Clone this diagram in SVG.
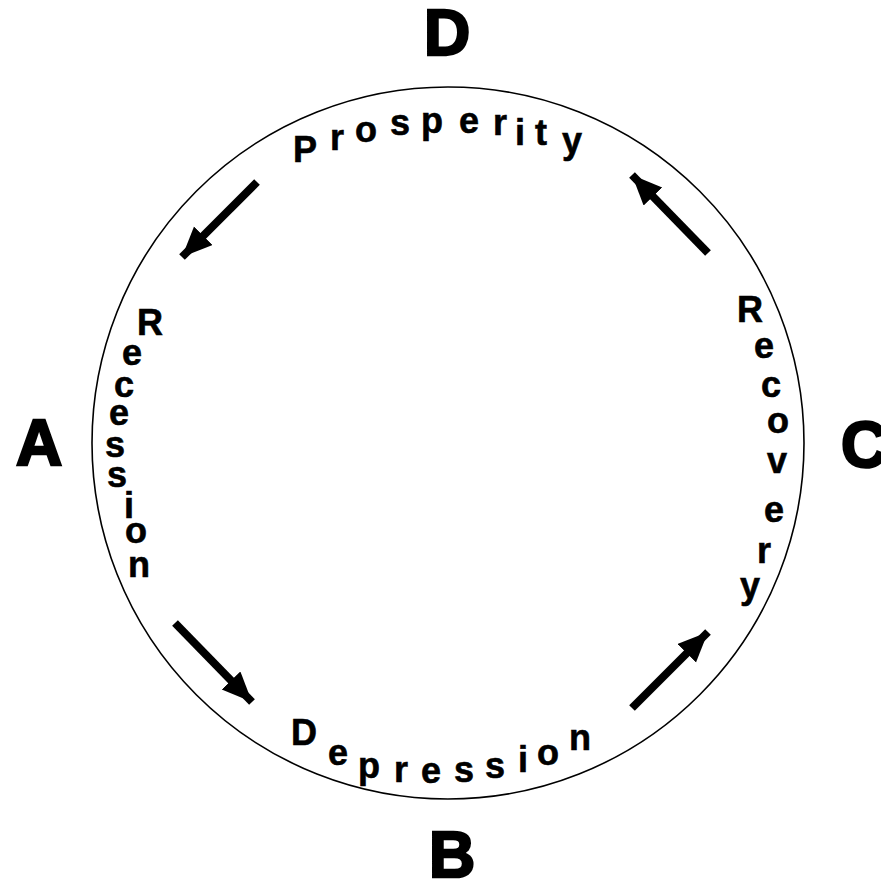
<svg xmlns="http://www.w3.org/2000/svg" width="881" height="881" viewBox="0 0 881 881">
<style>
.big{font-family:"Liberation Sans",Arial,sans-serif;font-weight:bold;font-size:64px;fill:#000;stroke:#000;stroke-width:2.5;text-anchor:middle}
.ph{font-family:"Liberation Sans",Arial,sans-serif;font-weight:bold;font-size:36px;fill:#000;stroke:#000;stroke-width:0.6;text-anchor:middle}
.arr{stroke:#000;stroke-width:8;fill:none;marker-end:url(#head)}
</style>
<defs>
<marker id="head" markerUnits="userSpaceOnUse" markerWidth="32" markerHeight="28" refX="30" refY="13" orient="auto" viewBox="0 0 32 28">
<path d="M0,0 L30,13 L0,26 Z" fill="#000"/>
</marker>
</defs>
<rect width="881" height="881" fill="#fff"/>
<g id="ring"><circle cx="448" cy="443" r="356" fill="none" stroke="#000" stroke-width="1.6"/></g>
<g id="node-D"><text class="big" x="447" y="55">D</text></g>
<g id="node-A"><text class="big" x="39" y="465">A</text></g>
<g id="node-B"><text class="big" x="452" y="877">B</text></g>
<g id="node-C"><text class="big" x="864" y="467">C</text></g>
<g id="label-prosperity">
<text class="ph" x="305" y="162">P</text>
<text class="ph" x="337" y="150">r</text>
<text class="ph" x="366" y="142">o</text>
<text class="ph" x="400" y="135">s</text>
<text class="ph" x="432" y="133">p</text>
<text class="ph" x="469" y="133">e</text>
<text class="ph" x="500" y="135">r</text>
<text class="ph" x="520" y="145">i</text>
<text class="ph" x="541" y="145">t</text>
<text class="ph" x="572" y="153">y</text>
</g>
<g id="label-recession">
<text class="ph" x="150" y="335">R</text>
<text class="ph" x="132" y="365">e</text>
<text class="ph" x="124" y="397">c</text>
<text class="ph" x="119" y="425">e</text>
<text class="ph" x="115" y="457">s</text>
<text class="ph" x="117" y="487">s</text>
<text class="ph" x="129" y="518">i</text>
<text class="ph" x="136" y="543">o</text>
<text class="ph" x="139" y="577">n</text>
</g>
<g id="label-recovery">
<text class="ph" x="750" y="322">R</text>
<text class="ph" x="764" y="358">e</text>
<text class="ph" x="771" y="397">c</text>
<text class="ph" x="778" y="433">o</text>
<text class="ph" x="777" y="473">v</text>
<text class="ph" x="774" y="522">e</text>
<text class="ph" x="764" y="563">r</text>
<text class="ph" x="750" y="598">y</text>
</g>
<g id="label-depression">
<text class="ph" x="304" y="745">D</text>
<text class="ph" x="338" y="765">e</text>
<text class="ph" x="369" y="778">p</text>
<text class="ph" x="401" y="782">r</text>
<text class="ph" x="431" y="783">e</text>
<text class="ph" x="464" y="782">s</text>
<text class="ph" x="495" y="778">s</text>
<text class="ph" x="523" y="772">i</text>
<text class="ph" x="548" y="765">o</text>
<text class="ph" x="580" y="750">n</text>
</g>
<g id="connectors">
<line class="arr" x1="257" y1="182" x2="182" y2="257"/>
<line class="arr" x1="175" y1="623" x2="252" y2="702"/>
<line class="arr" x1="632" y1="708" x2="708" y2="632"/>
<line class="arr" x1="708" y1="253" x2="632" y2="175"/>
</g>
</svg>
